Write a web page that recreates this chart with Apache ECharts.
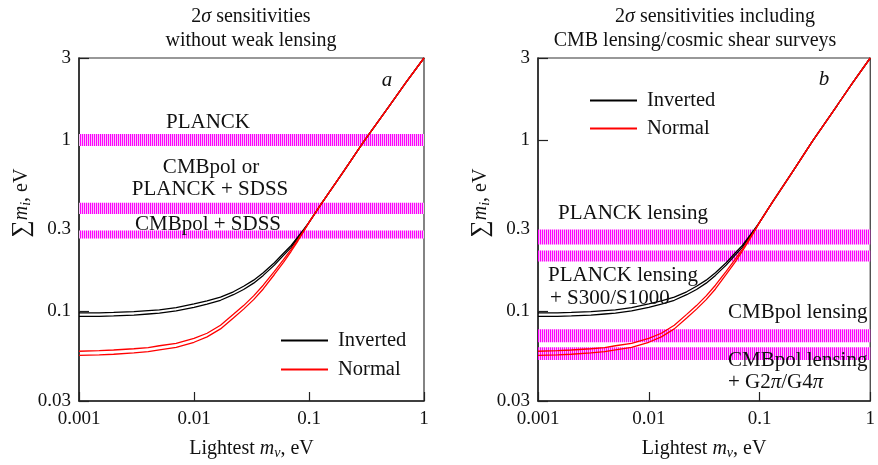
<!DOCTYPE html>
<html>
<head>
<meta charset="utf-8">
<title>Sum of neutrino masses sensitivities</title>
<script src="https://cdn.jsdelivr.net/npm/echarts@6/dist/echarts.min.js"></script>
<style>
  html, body { margin: 0; padding: 0; background: #fff; }
  #mainChart { width: 878px; height: 465px; }
</style>
</head>
<body>
<div id="mainChart"></div>
<script>
// lightest neutrino mass (eV) and sum of masses
var lightestMass = [0.001, 0.0015, 0.002, 0.003, 0.004, 0.005, 0.007, 0.01, 0.013, 0.017, 0.022, 0.027,
  0.033, 0.04, 0.05, 0.06, 0.07, 0.08, 0.09, 0.1, 0.13, 0.2, 0.3, 0.5, 0.7, 1];
var invertedHigh = [0.098, 0.098, 0.0985, 0.0995, 0.101, 0.102, 0.105, 0.1105, 0.115, 0.121, 0.130, 0.140,
  0.152, 0.168, 0.192, 0.218, 0.242, 0.272, 0.300, 0.33, 0.43, 0.655, 0.98, 1.58, 2.17, 3.0];
var invertedLow = [0.0935, 0.0935, 0.094, 0.095, 0.0965, 0.0975, 0.1005, 0.1055, 0.110, 0.116, 0.125, 0.134,
  0.146, 0.162, 0.186, 0.212, 0.236, 0.267, 0.296, 0.33, 0.43, 0.655, 0.98, 1.58, 2.17, 3.0];
var normalHigh = [0.0585, 0.059, 0.0595, 0.0605, 0.0615, 0.063, 0.065, 0.0695, 0.0745, 0.083, 0.096, 0.108,
  0.123, 0.142, 0.171, 0.200, 0.230, 0.262, 0.295, 0.33, 0.43, 0.655, 0.98, 1.58, 2.17, 3.0];
var normalLow = [0.0553, 0.0557, 0.0562, 0.0572, 0.0582, 0.0596, 0.0617, 0.066, 0.071, 0.079, 0.0915, 0.103,
  0.117, 0.135, 0.164, 0.193, 0.224, 0.257, 0.292, 0.33, 0.43, 0.655, 0.98, 1.58, 2.17, 3.0];

// 2 sigma sensitivity bands [low, high] in eV
var bandsNoLensing = [[0.92, 1.08], [0.37, 0.43], [0.266, 0.296]];
var bandsLensing = [[0.245, 0.30], [0.195, 0.226], [0.066, 0.0786], [0.052, 0.0618]];

var xLabelValues = [0.001, 0.01, 0.1, 1];
var yLabelValues = [0.03, 0.1, 0.3, 1, 3];

var xRange = [0.001, 1];
var yRange = [0.03, 3];

var serif = '"Liberation Serif", "Times New Roman", serif';
var ink = '#111';
var axisInk = '#222';

function stripes() {
  var c = document.createElement('canvas');
  c.width = 2;
  c.height = 4;
  var ctx = c.getContext('2d');
  ctx.fillStyle = '#f8c0f8';
  ctx.fillRect(0, 0, 2, 4);
  ctx.fillStyle = '#ff00ff';
  ctx.fillRect(0, 0, 1, 4);
  return c;
}
var stripeImg = stripes();

function pairs(ys) {
  var out = [];
  for (var i = 0; i < lightestMass.length; i++) {
    out.push([lightestMass[i], ys[i]]);
  }
  return out;
}

function fmt(v) {
  return String(+Number(v).toPrecision(2));
}

var nameRich = {
  n: {fontFamily: serif, fontSize: 20, color: ink},
  b: {fontFamily: serif, fontSize: 24, color: ink},
  i: {fontFamily: serif, fontSize: 20, color: ink, fontStyle: 'italic'},
  s: {fontFamily: serif, fontSize: 14, color: ink, fontStyle: 'italic', padding: [9, 0, 0, 0]}
};

function panelGrid(left) {
  return {left: left, top: 58, width: 345, height: 344, show: true,
    backgroundColor: 'transparent', borderColor: '#333', borderWidth: 1.2};
}

// decade ticks come from the log scale itself
function mainX(g) {
  return {
    type: 'log', logBase: 10, gridIndex: g, position: 'bottom',
    min: xRange[0], max: xRange[1],
    axisLine: {onZero: false, lineStyle: {color: axisInk, width: 1.5}},
    axisTick: {show: true, inside: true, length: 9, lineStyle: {color: axisInk, width: 1.2}},
    axisLabel: {customValues: xLabelValues, margin: 9, fontFamily: serif, fontSize: 19, color: ink, formatter: fmt},
    splitLine: {show: false},
    name: '{n|Lightest }{i|m}{s|ν}{n|, eV}',
    nameLocation: 'middle',
    nameGap: 36,
    nameTextStyle: {rich: nameRich}
  };
}

function mainY(g) {
  return {
    type: 'log', logBase: 10, gridIndex: g, position: 'left',
    min: yRange[0], max: yRange[1],
    axisLine: {onZero: false, lineStyle: {color: axisInk, width: 1.5}},
    axisTick: {show: true, inside: true, length: 10, lineStyle: {color: axisInk, width: 1.2}},
    axisLabel: {customValues: yLabelValues, margin: 8, fontFamily: serif, fontSize: 19, color: ink, formatter: fmt},
    splitLine: {show: false}
  };
}

function curve(name, ys, g, color) {
  return {
    name: name, type: 'line', xAxisIndex: g, yAxisIndex: g,
    data: pairs(ys), symbol: 'none', smooth: false,
    lineStyle: {color: color, width: 1.3}, itemStyle: {color: color},
    z: 5, silent: true
  };
}

function bandSeries(bands, g) {
  var areas = [];
  for (var i = 0; i < bands.length; i++) {
    areas.push([{xAxis: xRange[0], yAxis: bands[i][0]}, {xAxis: xRange[1], yAxis: bands[i][1]}]);
  }
  return {
    type: 'line', xAxisIndex: g, yAxisIndex: g, data: [], z: 1, silent: true,
    markArea: {silent: true, itemStyle: {color: {image: stripeImg, repeat: 'repeat'}}, data: areas}
  };
}

function txt(x, y, text, opts) {
  opts = opts || {};
  return {
    type: 'text', x: x, y: y, rotation: opts.rotation || 0, z: 20, silent: true,
    style: {
      text: text, fill: ink, fontFamily: serif, fontSize: opts.size || 21,
      fontStyle: opts.italic ? 'italic' : 'normal',
      align: opts.align || 'center', verticalAlign: 'middle',
      rich: opts.rich
    }
  };
}

var titleRich = {
  n: {fontFamily: serif, fontSize: 20, color: ink},
  i: {fontFamily: serif, fontSize: 20, color: ink, fontStyle: 'italic'}
};
var piRich = {
  n: {fontFamily: serif, fontSize: 21, color: ink},
  i: {fontFamily: serif, fontSize: 21, color: ink, fontStyle: 'italic'}
};

function legendAt(left, top, gap) {
  return {
    data: [
      {name: 'Inverted', icon: 'rect', itemStyle: {color: '#000'}},
      {name: 'Normal', icon: 'rect', itemStyle: {color: '#f00'}}
    ],
    orient: 'vertical', selectedMode: false,
    left: left, top: top, itemGap: gap,
    itemWidth: 47, itemHeight: 2,
    textStyle: {fontFamily: serif, fontSize: 20.5, color: ink, padding: [0, 0, 0, 5]}
  };
}

var option = {
  animation: false,
  backgroundColor: '#fff',
  grid: [panelGrid(79), panelGrid(538)],
  xAxis: [mainX(0), mainX(1)],
  yAxis: [mainY(0), mainY(1)],
  legend: [legendAt(276, 325, 8), legendAt(585, 85, 7)],
  series: [
    bandSeries(bandsNoLensing, 0),
    curve('Inverted', invertedHigh, 0, '#000'),
    curve('Inverted', invertedLow, 0, '#000'),
    curve('Normal', normalHigh, 0, '#f00'),
    curve('Normal', normalLow, 0, '#f00'),
    bandSeries(bandsLensing, 1),
    curve('Inverted', invertedHigh, 1, '#000'),
    curve('Inverted', invertedLow, 1, '#000'),
    curve('Normal', normalHigh, 1, '#f00'),
    curve('Normal', normalLow, 1, '#f00')
  ],
  graphic: [
    txt(251, 17, '{n|2}{i|σ}{n| sensitivities}', {rich: titleRich}),
    txt(251, 41, 'without weak lensing', {size: 20}),
    txt(715, 17, '{n|2}{i|σ}{n| sensitivities including}', {rich: titleRich}),
    txt(695, 41, 'CMB lensing/cosmic shear surveys', {size: 20}),
    txt(22, 203, '{b|∑}{i|m}{s|i}{n|, eV}', {rich: nameRich, rotation: Math.PI / 2}),
    txt(481, 203, '{b|∑}{i|m}{s|i}{n|, eV}', {rich: nameRich, rotation: Math.PI / 2}),
    txt(387, 80, 'a', {italic: true}),
    txt(824, 79, 'b', {italic: true}),
    txt(208, 122, 'PLANCK'),
    txt(211, 167, 'CMBpol or'),
    txt(210, 189, 'PLANCK + SDSS'),
    txt(208, 224, 'CMBpol + SDSS'),
    txt(558, 213, 'PLANCK lensing', {align: 'left'}),
    txt(548, 275, 'PLANCK lensing', {align: 'left'}),
    txt(550, 298, '+ S300/S1000', {align: 'left'}),
    txt(728, 312, 'CMBpol lensing', {align: 'left'}),
    txt(728, 360, 'CMBpol lensing', {align: 'left'}),
    txt(728, 382, '{n|+ G2}{i|π}{n|/G4}{i|π}', {align: 'left', rich: piRich})
  ]
};

var myChart = echarts.init(document.getElementById('mainChart'));
myChart.setOption(option);
window.onresize = function () {
  myChart.resize();
};
</script>
</body>
</html>
